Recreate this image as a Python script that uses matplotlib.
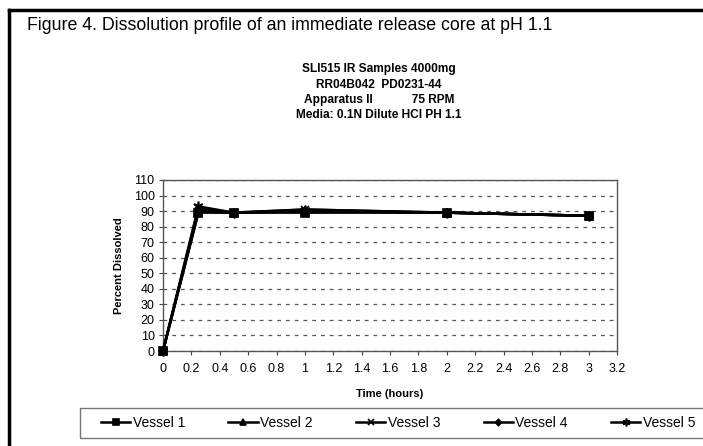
import numpy as np
import matplotlib.pyplot as plt
from matplotlib.patches import Rectangle
from matplotlib.lines import Line2D

plt.rcParams['font.family'] = ['Liberation Sans', 'DejaVu Sans']

# sampling times (hours) and percent dissolved per vessel
time_h = [0, 0.25, 0.5, 1, 2, 3]
vessel1 = [0, 89, 89, 89, 89, 87]
vessel2 = [0, 90, 89, 90, 89, 87]
vessel3 = [0, 92, 89, 91, 89, 87]
vessel4 = [0, 90, 89, 90, 89, 87]
vessel5 = [0, 93, 89, 91, 89, 87]

labels = ['Vessel 1', 'Vessel 2', 'Vessel 3', 'Vessel 4', 'Vessel 5']
markers = ['s', '^', 'x', 'D', (6, 2, 0)]
msizes = [6, 6, 6, 4, 7]

fig = plt.figure(figsize=(7.03, 4.46), dpi=100)

# outer frame (open on right/bottom)
fig.add_artist(Line2D([9/703, 9/703], [0, 1 - 10/446], transform=fig.transFigure,
                      color='black', lw=2.5))
fig.add_artist(Line2D([9/703, 1], [1 - 10/446, 1 - 10/446], transform=fig.transFigure,
                      color='black', lw=2.5))

fig.text(27/703, 1 - 26/446, 'Figure 4. Dissolution profile of an immediate release core at pH 1.1',
         fontsize=12.8, ha='left', va='center')

sub = ['SLI515 IR Samples 4000mg', 'RR04B042  PD0231-44',
       'Apparatus II            75 RPM', 'Media: 0.1N Dilute HCl PH 1.1']
for i, s in enumerate(sub):
    fig.text(379/703, 1 - (69 + i*15.5)/446, s, fontsize=8.6, fontweight='bold',
             ha='center', va='center')

ax = fig.add_axes([163/703, 1 - 351/446, 454/703, 171/446])

series = [vessel1, vessel2, vessel3, vessel4, vessel5]
handles = []
for vals, lab, m, ms in zip(series, labels, markers, msizes):
    h, = ax.plot(time_h, vals, color='black', lw=1.8, marker=m, markersize=ms,
                 markeredgewidth=1.2, label=lab, clip_on=False, zorder=3)
    handles.append(h)

ax.set_xlim(0, 3.2)
ax.set_ylim(0, 110)
ax.set_xticks(np.arange(0, 3.21, 0.2))
ax.set_xticklabels(['0', '0.2', '0.4', '0.6', '0.8', '1', '1.2', '1.4', '1.6', '1.8',
                    '2', '2.2', '2.4', '2.6', '2.8', '3', '3.2'])
ax.set_yticks(np.arange(0, 111, 10))
ax.tick_params(labelsize=9, length=3, color='#444444')
ax.tick_params(axis='x', pad=6)
ax.tick_params(axis='y', pad=3)
ax.yaxis.grid(True, color='#555555', linestyle=(0, (3, 4)), lw=0.9)
for sp in ax.spines.values():
    sp.set_color('#555555')
    sp.set_linewidth(1)

ax.set_xlabel('Time (hours)', fontsize=8, fontweight='bold', labelpad=10)
ax.set_ylabel('Percent Dissolved', fontsize=8, fontweight='bold', labelpad=7)

# legend box runs off the right edge
fig.add_artist(Rectangle((80/703, 1 - 438/446), 0.95, 30/446, transform=fig.transFigure,
                         fill=False, edgecolor='#777777', lw=1))
fig.legend(handles=handles, loc='center left', bbox_to_anchor=(101/703, 1 - 423/446),
           ncol=5, frameon=False, fontsize=10, handlelength=2.1, handletextpad=0.2,
           columnspacing=3.1, borderpad=0, borderaxespad=0, markerscale=0.8)

fig.savefig('out.png', dpi=100)
